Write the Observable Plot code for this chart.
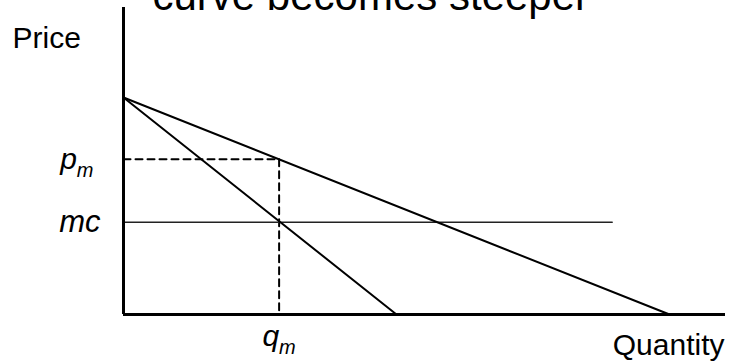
<!DOCTYPE html>
<html><head><meta charset="utf-8">
<script src="https://cdn.jsdelivr.net/npm/d3@7"></script>
<script src="https://cdn.jsdelivr.net/npm/@observablehq/plot@0.6"></script>
<style>html,body{margin:0;padding:0;background:#fff} svg{display:block}</style>
</head><body><div id="chart"></div>
<script>
// ---- data ----
const titleText = "curve becomes steeper";
const yLabel = "Price";
const xLabel = "Quantity";
const demandQ = [0, 20];
const demandP = [10, 0];
const mrQ = [0, 10];
const mrP = [10, 0];
const mcValue = 4.25;
const mcQ = [0, 17.9];
const qm = 5.7;
const pm = 7.15;
const xMax = 22.05;
const yMax = 14.15;

const font = "Arial, 'Liberation Sans', sans-serif";
const demand = demandQ.map((q, i) => ({q, p: demandP[i]}));
const mr = mrQ.map((q, i) => ({q, p: mrP[i]}));
const mc = mcQ.map(q => ({q, p: mcValue}));
const dashH = [{q: 0, p: pm}, {q: qm, p: pm}];
const dashV = [{q: qm, p: pm}, {q: qm, p: 0}];

const svg = Plot.plot({
  width: 733,
  height: 362,
  marginLeft: 123,
  marginRight: 8,
  marginTop: 7,
  marginBottom: 48,
  x: {domain: [0, xMax], axis: null},
  y: {domain: [0, yMax], axis: null},
  style: {background: "#fff", fontFamily: font, overflow: "visible"},
  marks: [
    Plot.line(dashH, {x: "q", y: "p", stroke: "black", strokeWidth: 2, strokeDasharray: "7,5"}),
    Plot.line(dashV, {x: "q", y: "p", stroke: "black", strokeWidth: 2, strokeDasharray: "7,5"}),
    Plot.line(mc, {x: "q", y: "p", stroke: "#222", strokeWidth: 1.5}),
    Plot.line(demand, {x: "q", y: "p", stroke: "black", strokeWidth: 2}),
    Plot.line(mr, {x: "q", y: "p", stroke: "black", strokeWidth: 2}),
    Plot.ruleX([0], {stroke: "black", strokeWidth: 3}),
    Plot.ruleY([0], {stroke: "black", strokeWidth: 3}),
    Plot.text([titleText], {frameAnchor: "top-left", dx: 29, dy: 2.5, textAnchor: "start", lineAnchor: "bottom", fontSize: 42, fill: "black", fontFamily: font}),
    Plot.text([yLabel], {frameAnchor: "top-left", dx: -111, dy: 40, textAnchor: "start", lineAnchor: "bottom", fontSize: 30, fill: "black", fontFamily: font}),
    Plot.text([xLabel], {frameAnchor: "bottom-right", dx: -1, dy: 40, textAnchor: "end", lineAnchor: "bottom", fontSize: 30, fill: "black", fontFamily: font}),
    Plot.text([{q: 0, p: pm, t: "pm"}], {x: "q", y: "p", text: "t", dx: -30, textAnchor: "end", lineAnchor: "middle", fontSize: 30, fontStyle: "italic", fill: "black", fontFamily: font}),
    Plot.text([{q: 0, p: mcValue, t: "mc"}], {x: "q", y: "p", text: "t", dx: -23, textAnchor: "end", lineAnchor: "middle", fontSize: 31, fontStyle: "italic", fill: "black", fontFamily: font}),
    Plot.text([{q: qm, p: 0, t: "qm"}], {x: "q", y: "p", text: "t", dx: 0, dy: 31, textAnchor: "middle", lineAnchor: "bottom", fontSize: 30, fontStyle: "italic", fill: "black", fontFamily: font})
  ]
});

d3.select(svg).selectAll("text").each(function() {
  const t = this.textContent;
  if (t === "pm" || t === "qm") {
    const s = d3.select(this);
    s.text(null);
    s.append("tspan").text(t[0]);
    s.append("tspan").attr("font-size", 20).attr("dy", 8).text("m");
  }
});

document.getElementById("chart").appendChild(svg);
</script>
</body></html>
